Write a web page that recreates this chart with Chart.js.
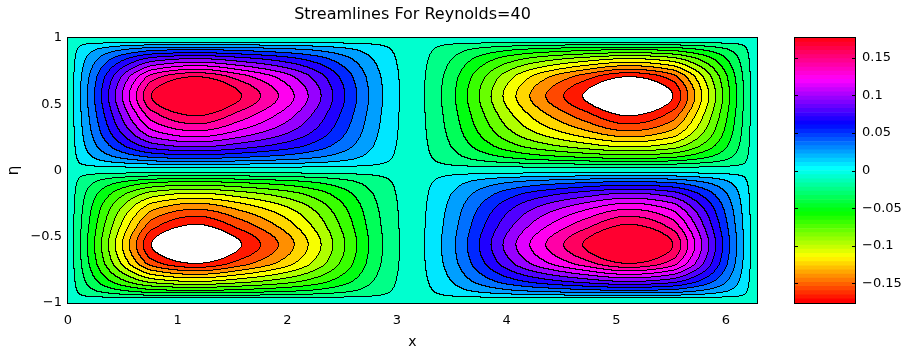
<!DOCTYPE html>
<html>
<head>
<meta charset="utf-8">
<title>Streamlines For Reynolds=40</title>
<script src="https://cdn.jsdelivr.net/npm/chart.js@4.4.1/dist/chart.umd.min.js"></script>
<style>
  html, body { margin: 0; padding: 0; background: #fff; }
  #wrap { position: relative; width: 911px; height: 352px; overflow: hidden; }
  #main { position: absolute; left: 0; top: 0; width: 911px; height: 352px; }
  #cbar { position: absolute; left: 780px; top: 0; width: 131px; height: 352px; }
</style>
</head>
<body>
<div id="wrap">
  <canvas id="main" width="911" height="352"></canvas>
  <canvas id="cbar" width="131" height="352"></canvas>
</div>
<script>
// ---- labels and ticks ----
const chartTitle = 'Streamlines For Reynolds=40';
const xLabel = 'x';
const etaLabel = 'η';
const xTicks = [0, 1, 2, 3, 4, 5, 6];
const etaTicks = [-1, -0.5, 0, 0.5, 1];
const colorbarTicks = [-0.15, -0.1, -0.05, 0, 0.05, 0.1, 0.15];
const xRange = [0, 6.2832];
const etaRange = [-1, 1];
const colorLimits = [-0.176, 0.176];

// ---- streamfunction along the vortex row (eta = 0.56) ----
// positions where each contour level is crossed, plus walls and vortex centres
const rowX = [
  0, 0.054, 0.118, 0.181, 0.245, 0.308, 0.372, 0.435, 0.499, 0.562, 0.626, 0.689, 0.762,
  1.170,
  1.587, 1.759, 1.922, 2.067, 2.194, 2.312, 2.421, 2.530, 2.638, 2.747, 2.874, 3.028,
  3.1416,
  3.255, 3.409, 3.536, 3.645, 3.753, 3.862, 3.971, 4.089, 4.216, 4.361, 4.524, 4.696,
  5.113,
  5.521, 5.594, 5.657, 5.721, 5.784, 5.848, 5.911, 5.975, 6.038, 6.102, 6.165, 6.229, 6.2832
];
const rowPsi = [
  0, 0.0074, 0.0222, 0.0370, 0.0518, 0.0666, 0.0814, 0.0962, 0.1110, 0.1258, 0.1406, 0.1554, 0.1702,
  0.2000,
  0.1702, 0.1554, 0.1406, 0.1258, 0.1110, 0.0962, 0.0814, 0.0666, 0.0518, 0.0370, 0.0222, 0.0074,
  0,
  -0.0074, -0.0222, -0.0370, -0.0518, -0.0666, -0.0814, -0.0962, -0.1110, -0.1258, -0.1406, -0.1554, -0.1702,
  -0.2000,
  -0.1702, -0.1554, -0.1406, -0.1258, -0.1110, -0.0962, -0.0814, -0.0666, -0.0518, -0.0370, -0.0222, -0.0074, 0
];

// ---- cross-channel shape through the vortex centres (1 at eta = 0.56) ----
const etaPos = [
  -1, -0.966, -0.947, -0.928, -0.909, -0.886, -0.864, -0.841, -0.814, -0.788, -0.761, -0.735, -0.705,
  -0.560,
  -0.409, -0.348, -0.295, -0.250, -0.212, -0.174, -0.144, -0.114, -0.087, -0.064, -0.042, -0.019,
  0,
  0.019, 0.042, 0.064, 0.087, 0.114, 0.144, 0.174, 0.212, 0.250, 0.295, 0.348, 0.409,
  0.560,
  0.705, 0.735, 0.761, 0.788, 0.814, 0.841, 0.864, 0.886, 0.909, 0.928, 0.947, 0.966, 1
];
const etaShape = [
  0, -0.037, -0.111, -0.185, -0.259, -0.333, -0.407, -0.481, -0.555, -0.629, -0.703, -0.777, -0.851,
  -1,
  -0.851, -0.777, -0.703, -0.629, -0.555, -0.481, -0.407, -0.333, -0.259, -0.185, -0.111, -0.037,
  0,
  0.037, 0.111, 0.185, 0.259, 0.333, 0.407, 0.481, 0.555, 0.629, 0.703, 0.777, 0.851,
  1,
  0.851, 0.777, 0.703, 0.629, 0.555, 0.481, 0.407, 0.333, 0.259, 0.185, 0.111, 0.037, 0
];

// ---- filled contour levels ----
const contourLevels = [
  -0.1702, -0.1554, -0.1406, -0.1258, -0.1110, -0.0962, -0.0814, -0.0666, -0.0518, -0.0370, -0.0222, -0.0074,
  0.0074, 0.0222, 0.0370, 0.0518, 0.0666, 0.0814, 0.0962, 0.1110, 0.1258, 0.1406, 0.1554, 0.1702
];

const FONT = 'DejaVu Sans';
const COLORMAP_SIZE = 64;

// hsv colormap entry (hue in [0,1), full saturation and value)
function hsvColor(h) {
  const h6 = h * 6, k = Math.floor(h6), f = h6 - k;
  let r, g, b;
  switch (k % 6) {
    case 0: r = 1; g = f; b = 0; break;
    case 1: r = 1 - f; g = 1; b = 0; break;
    case 2: r = 0; g = 1; b = f; break;
    case 3: r = 0; g = 1 - f; b = 1; break;
    case 4: r = f; g = 0; b = 1; break;
    default: r = 1; g = 0; b = 1 - f;
  }
  return [Math.round(r * 255), Math.round(g * 255), Math.round(b * 255)];
}
function colorForValue(v) {
  const [c0, c1] = colorLimits;
  let idx = Math.floor((v - c0) / (c1 - c0) * COLORMAP_SIZE);
  idx = Math.max(0, Math.min(COLORMAP_SIZE - 1, idx));
  return hsvColor(idx / COLORMAP_SIZE);
}
const rgbCss = c => `rgb(${c[0]},${c[1]},${c[2]})`;

// monotone cubic (Fritsch-Carlson) curve through profile knots
function monotoneCurve(xs, ys) {
  const n = xs.length, d = [], m = new Array(n);
  for (let i = 0; i < n - 1; i++) d.push((ys[i + 1] - ys[i]) / (xs[i + 1] - xs[i]));
  m[0] = d[0]; m[n - 1] = d[n - 2];
  for (let i = 1; i < n - 1; i++) {
    if (d[i - 1] * d[i] <= 0) { m[i] = 0; continue; }
    const h0 = xs[i] - xs[i - 1], h1 = xs[i + 1] - xs[i];
    const w1 = 2 * h1 + h0, w2 = h1 + 2 * h0;
    m[i] = (w1 + w2) / (w1 / d[i - 1] + w2 / d[i]);
  }
  return x => {
    if (x <= xs[0]) return ys[0];
    if (x >= xs[n - 1]) return ys[n - 1];
    let lo = 0, hi = n - 1;
    while (hi - lo > 1) { const mid = (lo + hi) >> 1; if (xs[mid] > x) hi = mid; else lo = mid; }
    const h = xs[hi] - xs[lo], t = (x - xs[lo]) / h;
    const t2 = t * t, t3 = t2 * t;
    return (2 * t3 - 3 * t2 + 1) * ys[lo] + (t3 - 2 * t2 + t) * h * m[lo] +
           (-2 * t3 + 3 * t2) * ys[hi] + (t3 - t2) * h * m[hi];
  };
}

// blend of the row and column transects (both scaled to 0..1): equals each
// transect along it, elliptic near the centre, rounded-box near the walls
const BLEND = 0.6;
function blendTransects(u, w) {
  const den = u + w - u * w;
  return den > 0 ? (u * w) / Math.pow(den, BLEND) : 0;
}

const tickText = v => (v < 0 ? '\u2212' : '') + String(Math.abs(v));

// filled contours of the streamfunction, drawn in the plot area through the axes
const streamFieldPlugin = {
  id: 'streamField',
  beforeDatasetsDraw(chart) {
    const { ctx, chartArea, scales } = chart;
    const left = Math.round(chartArea.left), top = Math.round(chartArea.top);
    const w = Math.round(chartArea.right) - left, h = Math.round(chartArea.bottom) - top;
    const rowFn = monotoneCurve(rowX, rowPsi);
    const etaFn = monotoneCurve(etaPos, etaShape);
    const peak = Math.max(...rowPsi.map(Math.abs));
    const X = new Float64Array(w), E = new Float64Array(h);
    for (let i = 0; i < w; i++) X[i] = rowFn(scales.x.getValueForPixel(left + i + 0.5));
    for (let j = 0; j < h; j++) E[j] = etaFn(scales.y.getValueForPixel(top + j + 0.5));
    const nl = contourLevels.length;
    const band = new Int8Array(w * h);
    for (let j = 0; j < h; j++) {
      const wv = Math.min(1, Math.abs(E[j]));
      for (let i = 0; i < w; i++) {
        const uv = Math.min(1, Math.abs(X[i]) / peak);
        const sgn = Math.sign(X[i]) * Math.sign(E[j]);
        const v = sgn * peak * blendTransects(uv, wv);
        let k = 0;
        while (k < nl && v >= contourLevels[k]) k++;
        band[j * w + i] = k;
      }
    }
    // below the lowest level stays unfilled; otherwise the fill takes the band's lower level
    const palette = [[255, 255, 255]].concat(contourLevels.map(colorForValue));
    const img = ctx.createImageData(w, h);
    const px = img.data;
    for (let j = 0; j < h; j++) {
      for (let i = 0; i < w; i++) {
        const p = j * w + i, b = band[p];
        const edge = (i < w - 1 && b !== band[p + 1]) || (j < h - 1 && b !== band[p + w]);
        const c = edge ? [0, 0, 0] : palette[b];
        px[p * 4] = c[0]; px[p * 4 + 1] = c[1]; px[p * 4 + 2] = c[2]; px[p * 4 + 3] = 255;
      }
    }
    const off = document.createElement('canvas');
    off.width = w; off.height = h;
    off.getContext('2d').putImageData(img, 0, 0);
    ctx.drawImage(off, left, top);
  },
  afterDraw(chart) {
    const { ctx, chartArea: a } = chart;
    ctx.save();
    ctx.strokeStyle = '#000';
    ctx.lineWidth = 1;
    ctx.strokeRect(Math.round(a.left) - 0.5, Math.round(a.top) - 0.5,
                   Math.round(a.right) - Math.round(a.left) + 1, Math.round(a.bottom) - Math.round(a.top) + 1);
    ctx.restore();
  }
};

const tickFont = { family: FONT, size: 13 };

new Chart(document.getElementById('main'), {
  type: 'scatter',
  data: { datasets: [{ data: [], pointRadius: 0 }] },
  plugins: [streamFieldPlugin],
  options: {
    responsive: false,
    animation: false,
    events: [],
    layout: { padding: { left: 0, right: 154, top: 0, bottom: 0 } },
    plugins: {
      legend: { display: false },
      tooltip: { enabled: false },
      title: {
        display: true, text: chartTitle, fullSize: false, color: '#000',
        font: { family: FONT, size: 16, weight: 'normal', lineHeight: 1.2 },
        padding: { top: 5, bottom: 13.8 }
      }
    },
    scales: {
      x: {
        type: 'linear', min: xRange[0], max: xRange[1],
        afterBuildTicks: s => { s.ticks = xTicks.map(v => ({ value: v })); },
        afterFit: s => { s.height = 49; },
        grid: { display: false, drawTicks: false },
        border: { display: false },
        ticks: { color: '#000', font: tickFont, padding: 10, maxRotation: 0, autoSkip: false, callback: tickText },
        title: { display: true, text: xLabel, color: '#000', font: { family: FONT, size: 14 }, padding: { top: 0, bottom: 1 } }
      },
      y: {
        type: 'linear', min: etaRange[0], max: etaRange[1],
        afterBuildTicks: s => { s.ticks = etaTicks.map(v => ({ value: v })); },
        afterFit: s => { s.width = 68; },
        grid: { display: false, drawTicks: false },
        border: { display: false },
        ticks: { color: '#000', font: tickFont, padding: 6, autoSkip: false, callback: tickText },
        title: { display: true, text: etaLabel, color: '#000', font: { family: FONT, size: 15 }, padding: { top: 5, bottom: 0 } }
      }
    }
  }
});

// ---- colour bar: one floating bar per colormap entry ----
const colorbarSteps = [];
for (let i = 0; i < COLORMAP_SIZE; i++) {
  const span = colorLimits[1] - colorLimits[0];
  colorbarSteps.push({
    data: [[colorLimits[0] + span * i / COLORMAP_SIZE, colorLimits[0] + span * (i + 1) / COLORMAP_SIZE]],
    backgroundColor: rgbCss(hsvColor(i / COLORMAP_SIZE)),
    borderWidth: 0, grouped: false, barPercentage: 1, categoryPercentage: 1
  });
}

const colorbarFramePlugin = {
  id: 'colorbarFrame',
  afterDraw(chart) {
    const { ctx, chartArea: a, scales } = chart;
    const l = Math.round(a.left), r = Math.round(a.right), t = Math.round(a.top), b = Math.round(a.bottom);
    ctx.save();
    ctx.strokeStyle = '#000';
    ctx.lineWidth = 1;
    ctx.beginPath();
    colorbarTicks.forEach(v => {
      const y = Math.round(scales.y.getPixelForValue(v)) + 0.5;
      ctx.moveTo(l, y); ctx.lineTo(l + 3, y);
      ctx.moveTo(r - 3, y); ctx.lineTo(r, y);
    });
    ctx.stroke();
    ctx.strokeRect(l - 0.5, t - 0.5, r - l + 1, b - t + 1);
    ctx.restore();
  }
};

new Chart(document.getElementById('cbar'), {
  type: 'bar',
  data: { labels: ['ψ'], datasets: colorbarSteps },
  plugins: [colorbarFramePlugin],
  options: {
    responsive: false,
    animation: false,
    events: [],
    layout: { padding: { left: 15, right: 0, top: 38, bottom: 49 } },
    plugins: { legend: { display: false }, tooltip: { enabled: false }, title: { display: false } },
    scales: {
      x: { display: false },
      y: {
        position: 'right', min: colorLimits[0], max: colorLimits[1],
        afterBuildTicks: s => { s.ticks = colorbarTicks.map(v => ({ value: v })); },
        afterFit: s => { s.width = 56; },
        grid: { display: false, drawTicks: false },
        border: { display: false },
        ticks: { color: '#000', font: tickFont, padding: 7, autoSkip: false, callback: tickText }
      }
    }
  }
});
</script>
</body>
</html>
